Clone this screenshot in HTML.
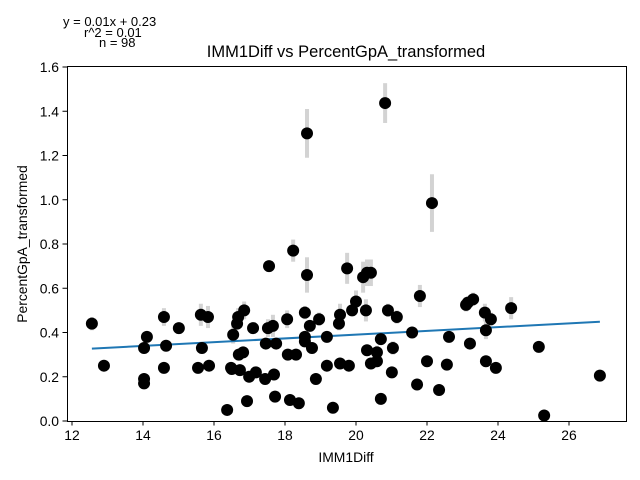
<!DOCTYPE html>
<html><head><meta charset="utf-8"><style>
body{margin:0;background:#fff;}
svg{display:block;font-family:"Liberation Sans","DejaVu Sans",sans-serif;}
</style></head><body>
<svg id="chart" width="640" height="480">
<text x="63" y="26" font-size="13">y = 0.01x + 0.23</text>
<text x="84" y="37" font-size="13">r^2 = 0.01</text>
<text x="99" y="47" font-size="13">n = 98</text>
<text x="346" y="57" font-size="16.5" text-anchor="middle">IMM1Diff vs PercentGpA_transformed</text>
<g id="errs"></g>
<g id="reg"></g>
<g id="pts"></g>
<rect x="67.5" y="66.5" width="559" height="355" fill="none" stroke="#000" stroke-width="1"/>
<g id="xt"></g>
<g id="yt"></g>
<text x="346" y="462" font-size="13.9" text-anchor="middle">IMM1Diff</text>
<text transform="translate(27,244) rotate(-90)" font-size="13.9" text-anchor="middle">PercentGpA_transformed</text>
</svg>
<script>
const xVals=[12.56,12.90,14.03,14.03,14.03,14.11,14.59,14.59,14.65,15.01,15.55,15.63,15.66,15.83,15.86,16.37,16.48,16.54,16.65,16.68,16.70,16.73,16.82,16.85,16.93,16.99,17.10,17.18,17.44,17.46,17.52,17.55,17.66,17.69,17.72,17.75,18.06,18.08,18.14,18.23,18.31,18.39,18.56,18.56,18.56,18.62,18.70,18.76,18.87,18.96,19.18,19.18,19.35,19.52,19.55,19.55,19.75,19.80,19.89,20.00,20.20,20.31,20.42,20.28,20.31,20.42,20.59,20.59,20.70,20.70,20.90,21.04,21.01,21.15,21.58,21.72,21.80,22.00,22.34,22.62,22.56,23.10,23.15,23.30,23.21,23.63,23.80,23.66,23.66,23.94,24.37,25.15,25.30,26.87,18.62,20.82,22.14,16.50];
const yVals=[0.44,0.25,0.19,0.17,0.33,0.38,0.47,0.24,0.34,0.42,0.24,0.48,0.33,0.47,0.25,0.05,0.24,0.39,0.44,0.47,0.30,0.23,0.31,0.50,0.09,0.20,0.42,0.22,0.19,0.35,0.42,0.70,0.43,0.21,0.11,0.35,0.46,0.30,0.095,0.77,0.30,0.08,0.49,0.38,0.36,0.66,0.43,0.33,0.19,0.46,0.38,0.25,0.06,0.44,0.48,0.26,0.69,0.25,0.50,0.54,0.65,0.67,0.67,0.50,0.32,0.26,0.31,0.27,0.37,0.10,0.50,0.33,0.22,0.47,0.40,0.165,0.565,0.27,0.14,0.38,0.255,0.525,0.535,0.55,0.35,0.49,0.46,0.41,0.27,0.24,0.51,0.335,0.025,0.205,1.30,1.437,0.985,0.235];
const errVals=[0.03,0,0,0,0,0,0.04,0,0,0,0,0.05,0,0.05,0,0,0,0.04,0,0.04,0,0,0,0.04,0,0,0,0,0,0,0.04,0.02,0.05,0,0,0,0.04,0,0,0.05,0,0,0.03,0,0,0.08,0,0,0,0.03,0,0,0,0.03,0.05,0,0.07,0,0,0.05,0.07,0.06,0.06,0.05,0,0,0.03,0,0,0,0.03,0.03,0,0.03,0,0,0.05,0,0,0,0.02,0.03,0,0.03,0,0.04,0.03,0.04,0.02,0,0.05,0,0,0,0.11,0.09,0.13,0];
const xTicks=[12,14,16,18,20,22,24,26];
const yTicks=[0.0,0.2,0.4,0.6,0.8,1.0,1.2,1.4,1.6];
const NS="http://www.w3.org/2000/svg";
function sx(v){return 72+(v-12)*35.5;}
function sy(v){return 421-v*221.25;}
function mk(tag,attrs,parent){const e=document.createElementNS(NS,tag);for(const k in attrs)e.setAttribute(k,attrs[k]);parent.appendChild(e);return e;}
const errs=document.getElementById('errs'),pts=document.getElementById('pts'),reg=document.getElementById('reg');
for(let i=0;i<xVals.length;i++){
  if(errVals[i]>0){
    const l=mk('line',{x1:sx(xVals[i]),x2:sx(xVals[i]),y1:sy(yVals[i]-errVals[i]),y2:sy(yVals[i]+errVals[i]),stroke:'#d3d3d3','stroke-width':4},errs);
    
    
  }
  const c=mk('circle',{cx:sx(xVals[i]),cy:sy(yVals[i]),r:6,fill:'#000'},pts);
  
  
}
// least squares
let n=xVals.length,mx=0,my=0;for(let i=0;i<n;i++){mx+=xVals[i];my+=yVals[i];}mx/=n;my/=n;
let sxy=0,sxx=0;for(let i=0;i<n;i++){sxy+=(xVals[i]-mx)*(yVals[i]-my);sxx+=(xVals[i]-mx)**2;}
const slope=sxy/sxx,icpt=my-slope*mx;
const xmin=Math.min(...xVals),xmax=Math.max(...xVals);
const rl=mk('line',{x1:sx(xmin),y1:sy(icpt+slope*xmin),x2:sx(xmax),y2:sy(icpt+slope*xmax),stroke:'#1f77b4','stroke-width':2},reg);


const xt=document.getElementById('xt'),yt=document.getElementById('yt');
xTicks.forEach(t=>{
  const x=sx(t);
  const l=mk('line',{x1:x,x2:x,y1:421,y2:425.5,stroke:'#000'},xt);
  
  
  const tx=mk('text',{x:x,y:440,'font-size':13.9,'text-anchor':'middle'},xt);tx.textContent=t;
  
  
});
yTicks.forEach(t=>{
  const y=sy(t);
  const l=mk('line',{x1:62.5,x2:67,y1:y,y2:y,stroke:'#000'},yt);
  
  
  const tx=mk('text',{x:59,y:y+5,'font-size':13.9,'text-anchor':'end'},yt);tx.textContent=t.toFixed(1);
  
  
});
</script>
</body></html>
